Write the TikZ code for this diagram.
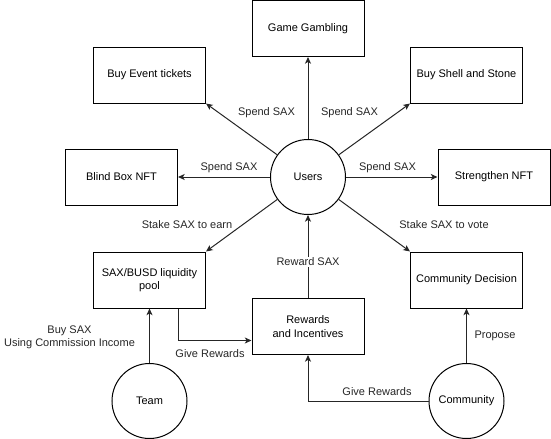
\documentclass[tikz,border=0pt]{standalone}
\usepackage{fontspec}
\setmainfont{Liberation Sans}
\usetikzlibrary{arrows.meta}

\begin{document}
\begin{tikzpicture}[
  x=0.75pt, y=-0.75pt,
  font=\fontsize{8.25}{10}\selectfont,
  box/.style={
    draw=black, line width=0.75pt, fill=white,
    minimum width=84pt, minimum height=42pt, inner sep=2pt, align=center,
  },
  actor/.style={
    draw=black, line width=0.75pt, fill=white, circle,
    minimum size=56.25pt, inner sep=0pt, align=center,
  },
  arrow/.style={-{Stealth[length=5pt, width=4.5pt, inset=1.3pt]}, line width=0.75pt, draw=black!85},
  lbl/.style={inner sep=1pt, align=center, text=black!85},
]
\useasboundingbox (0,0) rectangle (551,439);

% =================== USERS AND SPENDING ===================
\node[actor] (users) at (308,177) {Users};
\node[box] (game) at (308,28.5) {Game Gambling};
\node[box] (event) at (149.5,75) {Buy Event tickets};
\node[box] (shell) at (466.5,75) {Buy Shell and Stone};
\node[box] (blind) at (121.5,177) {Blind Box NFT};
\node[box] (streng) at (494,177) {Strengthen NFT};

\draw[arrow] (users) -- (game);
\draw[arrow] (users) -- (event.south east);
\draw[arrow] (users) -- (shell.south west);
\draw[arrow] (users) -- (blind);
\draw[arrow] (users) -- (streng);

% =================== STAKING AND REWARDS ===================
\node[box] (pool) at (149.5,280) {SAX/BUSD liquidity\\pool};
\node[box] (reward) at (308,326.5) {Rewards\\and Incentives};
\node[box] (decision) at (466.5,280) {Community Decision};

\draw[arrow] (users) -- (pool.north east);
\draw[arrow] (users) -- (decision.north west);
\draw[arrow] (reward) -- (users);
\draw[arrow] ([xshift=-21pt]pool.south east) |- ([yshift=-10.5pt]reward.west);

% =================== TEAM AND COMMUNITY ===================
\node[actor] (team) at (149.5,401) {Team};
\node[actor] (comm) at (466.5,401) {Community};

\draw[arrow] (team) -- (pool);
\draw[arrow] (comm.west) -| (reward.south);
\draw[arrow] (comm) -- (decision);

% Edge labels
\node[lbl] (lspendul) at (266.5,112.5) {Spend SAX};
\node[lbl] (lspendur) at (349.5,112.5) {Spend SAX};
\node[lbl] (lspendl) at (229,168) {Spend SAX};
\node[lbl] (lspendr) at (387.5,168) {Spend SAX};
\node[lbl] (learn) at (187,225) {Stake SAX to earn};
\node[lbl] (lvote) at (444,225) {Stake SAX to vote};
\node[lbl, fill=white] (lreward) at (308,262) {Reward SAX};
\node[lbl] (lgivepool) at (210,354) {Give Rewards};
\node[lbl] (lbuy) at (69.5,337) {Buy SAX\\Using Commission Income};
\node[lbl] (lgivecomm) at (377,392) {Give Rewards};
\node[lbl] (lpropose) at (495,336) {Propose};

\end{tikzpicture}
\end{document}
